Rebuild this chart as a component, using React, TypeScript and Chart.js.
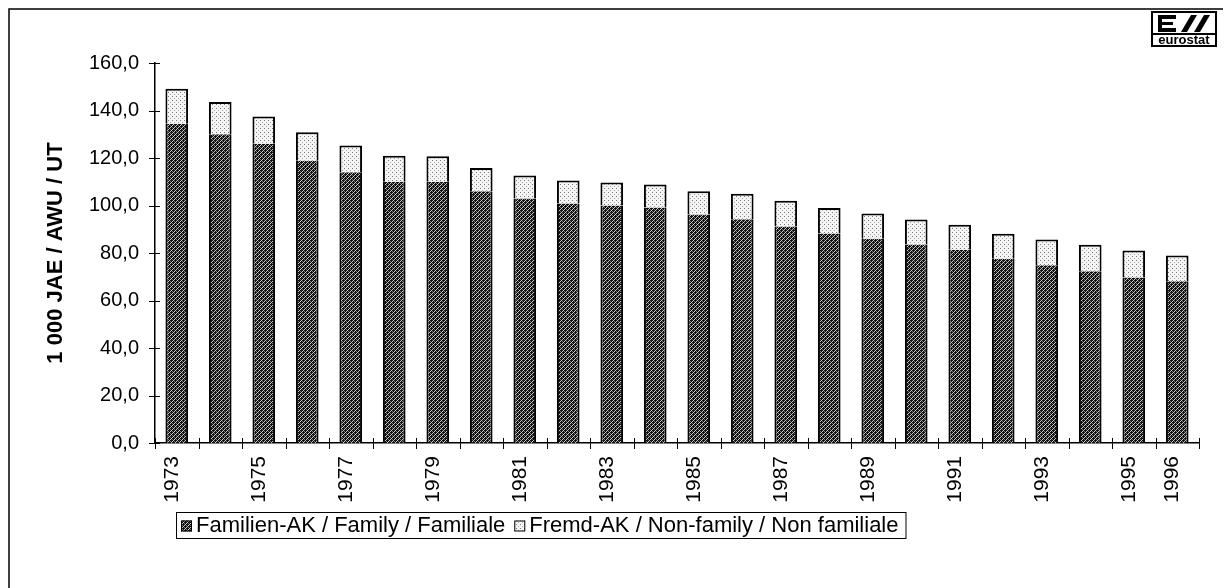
import React, { useEffect, useRef } from 'react';
import { Chart, registerables } from 'chart.js';

Chart.register(...registerables);

const years = ['1973', '1974', '1975', '1976', '1977', '1978', '1979', '1980', '1981', '1982', '1983', '1984',
  '1985', '1986', '1987', '1988', '1989', '1990', '1991', '1992', '1993', '1994', '1995', '1996'];
const familyValues = [134.4, 130.0, 126.0, 118.8, 114.0, 110.0, 110.0, 106.0, 103.0, 100.8, 100.0, 99.2,
  96.2, 94.2, 91.2, 88.2, 86.0, 83.6, 81.4, 77.6, 74.8, 72.3, 69.7, 68.1];
const nonFamilyValues = [14.8, 13.6, 11.5, 12.0, 11.3, 11.0, 10.7, 9.8, 9.6, 9.7, 9.7, 9.6,
  9.8, 10.8, 10.8, 10.8, 10.6, 10.5, 10.5, 10.5, 10.9, 11.2, 11.4, 10.8];
const shownYearLabels = ['1973', '1975', '1977', '1979', '1981', '1983', '1985', '1987', '1989', '1991', '1993', '1995', '1996'];
const yTickValues = [0, 20, 40, 60, 80, 100, 120, 140, 160];
const legendLabels = ['Familien-AK / Family / Familiale', 'Fremd-AK / Non-family / Non familiale'];
const yAxisTitle = '1 000 JAE / AWU / UT';

const FONT = '"Liberation Sans", Arial, sans-serif';

function makePattern(kind: 'dark' | 'light'): CanvasPattern | string {
  const c = document.createElement('canvas');
  const g = c.getContext('2d');
  if (!g) return kind === 'dark' ? '#555' : '#eee';
  if (kind === 'dark') {
    c.width = 4; c.height = 4;
    g.fillStyle = '#111111';
    g.fillRect(0, 0, 4, 4);
    g.fillStyle = '#c8c8c8';
    g.fillRect(1, 0, 1, 1);
    g.fillRect(3, 2, 1, 1);
    g.fillRect(0, 1, 1, 1);
    g.fillRect(2, 3, 1, 1);
    g.fillStyle = '#707070';
    g.fillRect(2, 1, 1, 1);
    g.fillRect(0, 3, 1, 1);
  } else {
    c.width = 4; c.height = 4;
    g.fillStyle = '#f4f4f4';
    g.fillRect(0, 0, 4, 4);
    g.fillStyle = '#7a7a7a';
    g.fillRect(0, 0, 1, 1);
    g.fillStyle = '#a8a8a8';
    g.fillRect(2, 2, 1, 1);
  }
  const p = g.createPattern(c, 'repeat');
  return p || (kind === 'dark' ? '#555' : '#eee');
}

export default function App() {
  const ref = useRef<HTMLCanvasElement | null>(null);

  useEffect(() => {
    const canvas = ref.current;
    if (!canvas) return;
    const darkPat = makePattern('dark');
    const lightPat = makePattern('light');

    const decorations = {
      id: 'decorations',
      afterDraw(chart: any) {
        const ctx = chart.ctx as CanvasRenderingContext2D;
        const xs = chart.scales.x;
        const ys = chart.scales.y;
        ctx.save();
        ctx.strokeStyle = '#000';
        // outer frame
        ctx.lineWidth = 1.5;
        ctx.beginPath();
        ctx.moveTo(9, 590);
        ctx.lineTo(9, 9);
        ctx.lineTo(1223, 9);
        ctx.stroke();

        // y ticks crossing axis
        ctx.lineWidth = 1;
        const axX = xs.left;
        yTickValues.forEach((v) => {
          const y = Math.round(ys.getPixelForValue(v)) + 0.5;
          ctx.beginPath();
          ctx.moveTo(axX - 6, y);
          ctx.lineTo(axX + 5, y);
          ctx.stroke();
        });
        // x ticks at category boundaries
        const half = (xs.getPixelForValue(1) - xs.getPixelForValue(0)) / 2;
        const axY = ys.bottom;
        for (let i = 0; i <= years.length; i++) {
          const x = Math.round(xs.getPixelForValue(i) - half) + 0.5;
          ctx.beginPath();
          ctx.moveTo(x, axY - 5);
          ctx.lineTo(x, axY + 6);
          ctx.stroke();
        }

        // legend
        ctx.font = `22px ${FONT}`;
        ctx.textBaseline = 'middle';
        ctx.textAlign = 'left';
        const lx = 176, ly = 512, lh = 26;
        const sw = 11;
        const w1 = ctx.measureText(legendLabels[0]).width;
        const w2 = ctx.measureText(legendLabels[1]).width;
        const s1x = lx + 5;
        const t1x = s1x + sw + 4;
        const s2x = t1x + w1 + 9;
        const t2x = s2x + sw + 4;
        const lw = t2x + w2 + 7 - lx;
        ctx.lineWidth = 1;
        ctx.strokeRect(lx + 0.5, ly + 0.5, lw, lh);
        const cy = ly + lh / 2 + 1;
        ctx.fillStyle = darkPat as any;
        ctx.fillRect(s1x, cy - sw / 2, sw, sw);
        ctx.strokeRect(s1x + 0.5, cy - sw / 2 + 0.5, sw - 1, sw - 1);
        ctx.fillStyle = lightPat as any;
        ctx.fillRect(s2x, cy - sw / 2, sw, sw);
        ctx.strokeRect(s2x + 0.5, cy - sw / 2 + 0.5, sw - 1, sw - 1);
        ctx.fillStyle = '#000';
        ctx.fillText(legendLabels[0], t1x, cy);
        ctx.fillText(legendLabels[1], t2x, cy);

        // eurostat logo
        const bx = 1152, by = 12, bw = 64, bh = 34;
        ctx.lineWidth = 2;
        ctx.strokeRect(bx, by, bw, bh);
        ctx.beginPath();
        ctx.moveTo(bx, by + 22);
        ctx.lineTo(bx + bw, by + 22);
        ctx.stroke();
        ctx.fillStyle = '#000';
        // E
        ctx.fillRect(bx + 6, by + 3, 4, 17);
        ctx.fillRect(bx + 6, by + 3, 18, 4);
        ctx.fillRect(bx + 6, by + 10, 15, 3);
        ctx.fillRect(bx + 6, by + 16, 18, 4);
        // slashes
        ctx.beginPath();
        ctx.moveTo(bx + 29, by + 20); ctx.lineTo(bx + 39, by + 3); ctx.lineTo(bx + 45, by + 3); ctx.lineTo(bx + 35, by + 20); ctx.closePath();
        ctx.fill();
        ctx.beginPath();
        ctx.moveTo(bx + 42, by + 20); ctx.lineTo(bx + 52, by + 3); ctx.lineTo(bx + 58, by + 3); ctx.lineTo(bx + 48, by + 20); ctx.closePath();
        ctx.fill();
        ctx.font = `bold 13px ${FONT}`;
        ctx.textAlign = 'center';
        ctx.textBaseline = 'middle';
        ctx.fillText('eurostat', bx + bw / 2, by + 28);
        ctx.restore();
      },
    };

    const chart = new Chart(canvas, {
      type: 'bar',
      data: {
        labels: years,
        datasets: [
          {
            label: legendLabels[0],
            data: familyValues,
            backgroundColor: darkPat as any,
            borderColor: '#000',
            borderWidth: { left: 2, right: 2, top: 0, bottom: 0 } as any,
            borderSkipped: false,
            barPercentage: 0.52,
            categoryPercentage: 1,
          },
          {
            label: legendLabels[1],
            data: nonFamilyValues,
            backgroundColor: lightPat as any,
            borderColor: '#000',
            borderWidth: { left: 2, right: 2, top: 2, bottom: 0 } as any,
            borderSkipped: false,
            barPercentage: 0.52,
            categoryPercentage: 1,
          },
        ],
      },
      options: {
        animation: false,
        responsive: false,
        maintainAspectRatio: false,
        layout: { padding: { left: 0, right: 26, top: 63, bottom: 0 } },
        plugins: {
          legend: { display: false },
          tooltip: { enabled: false },
          title: { display: false },
        },
        scales: {
          x: {
            stacked: true,
            offset: true,
            grid: { display: false, drawTicks: false },
            border: { display: true, color: '#000', width: 1.5 },
            ticks: {
              autoSkip: false,
              maxRotation: 90,
              minRotation: 90,
              padding: 13,
              labelOffset: -5,
              color: '#000',
              font: { family: FONT, size: 21 },
              callback: (_v: any, i: number) => (shownYearLabels.includes(years[i]) ? years[i] : ''),
            },
            afterFit: (s: any) => { s.height = 145; },
          },
          y: {
            stacked: true,
            min: 0,
            max: 160,
            grid: { display: false, drawTicks: false },
            border: { display: true, color: '#000', width: 1.5 },
            ticks: {
              stepSize: 20,
              padding: 16,
              color: '#000',
              font: { family: FONT, size: 20 },
              callback: (v: any) => Number(v).toFixed(1).replace('.', ','),
            },
            title: {
              display: true,
              text: yAxisTitle,
              color: '#000',
              font: { family: FONT, size: 22, weight: 'bold' },
              padding: { top: 43, bottom: 0 },
            },
            afterFit: (s: any) => { s.width = 155; },
          },
        },
      },
      plugins: [decorations],
    } as any);

    return () => chart.destroy();
  }, []);

  return (
    <div style={{ position: 'absolute', left: 0, top: 0, width: 1225, height: 588, background: '#fff' }}>
      <canvas ref={ref} width={1225} height={588} style={{ display: 'block', width: 1225, height: 588 }} />
    </div>
  );
}
